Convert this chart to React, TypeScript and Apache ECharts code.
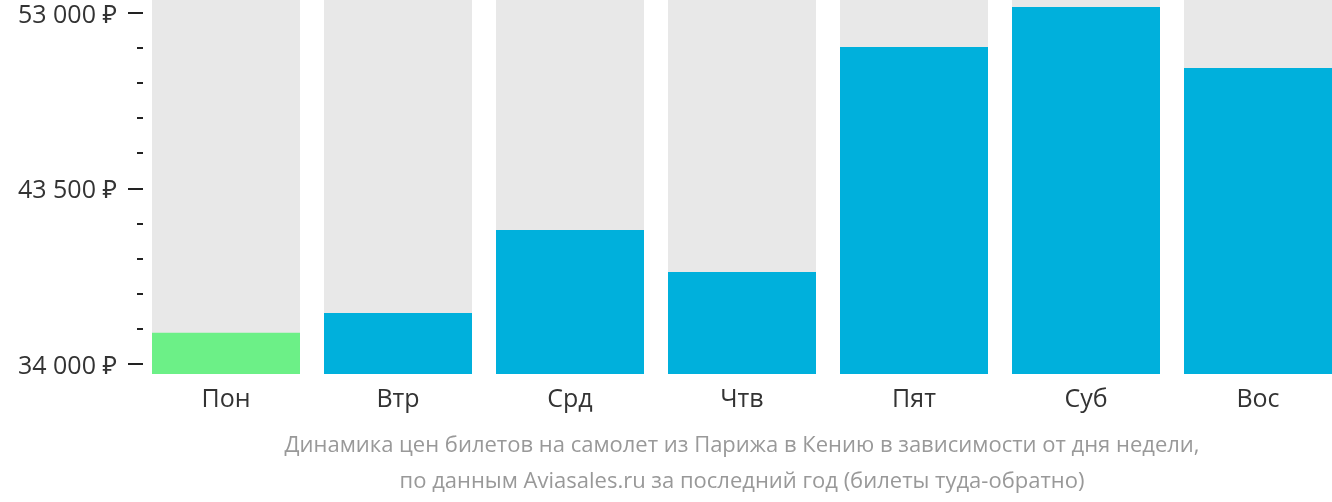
import React, { useEffect, useRef } from "react";
import * as echarts from "echarts";

const days = ["Пон", "Втр", "Срд", "Чтв", "Пят", "Суб", "Вос"];
const prices = [35670, 36720, 41150, 38910, 50920, 53050, 49800];
const cheapestIndex = 0;
const axisTicks = [34000, 43500, 53000];
const subtitleLines = [
  "Динамика цен билетов на самолет из Парижа в Кению в зависимости от дня недели,",
  "по данным Aviasales.ru за последний год (билеты туда-обратно)",
];

const FONT = "'Open Sans', 'Noto Sans', sans-serif";

function fmt(v: number) {
  const s = String(Math.round(v));
  return s.replace(/\B(?=(\d{3})+(?!\d))/g, " ") + " ₽";
}

export default function App() {
  const ref = useRef<HTMLDivElement>(null);
  useEffect(() => {
    if (!ref.current) return;
    const chart = echarts.init(ref.current, null, { renderer: "svg" });
    const axisMin = axisTicks[0];
    const axisMax = axisTicks[axisTicks.length - 1];
    const step = axisTicks[1] - axisTicks[0];
    const pxPerUnit = 356 / (axisMax - axisMin);
    const barMin = axisMin - 10 / pxPerUnit;
    const barMax = axisMax + 8 / pxPerUnit;
    chart.setOption({
      animation: false,
      textStyle: { fontFamily: FONT },
      title: {
        text: subtitleLines.join("\n"),
        left: 742,
        top: 425,
        textAlign: "center",
        padding: 0,
        textStyle: {
          fontFamily: FONT,
          fontSize: 22,
          fontWeight: "normal",
          color: "#999999",
          lineHeight: 36,
        },
      },
      grid: [
        { left: 143, top: 8, width: 10, height: 356 },
        { left: 140, top: 0, width: 1204, height: 374 },
      ],
      xAxis: [
        { type: "value", gridIndex: 0, show: false },
        {
          type: "category",
          gridIndex: 1,
          data: days,
          axisLine: { show: false },
          axisTick: { show: false },
          axisLabel: {
            color: "#333333",
            fontSize: 25,
            fontFamily: FONT,
            margin: 10,
          },
        },
      ],
      yAxis: [
        {
          type: "value",
          gridIndex: 0,
          min: axisMin,
          max: axisMax,
          interval: step,
          axisLine: { show: false },
          splitLine: { show: false },
          axisTick: {
            show: true,
            length: 15,
            lineStyle: { color: "#222222", width: 2 },
          },
          minorTick: {
            show: true,
            splitNumber: 5,
            length: 6,
            lineStyle: { color: "#222222", width: 2 },
          },
          axisLabel: {
            color: "#333333",
            fontSize: 25,
            fontFamily: FONT,
            margin: 26,
            formatter: (v: number) => fmt(v),
          },
        },
        {
          type: "value",
          gridIndex: 1,
          min: barMin,
          max: barMax,
          show: false,
        },
      ],
      series: [
        {
          type: "bar",
          xAxisIndex: 1,
          yAxisIndex: 1,
          barWidth: 148,
          showBackground: true,
          backgroundStyle: { color: "#e8e8e8" },
          data: prices.map((v, i) => ({
            value: v,
            itemStyle: { color: i === cheapestIndex ? "#6cf087" : "#00b0dc" },
          })),
        },
      ],
    });
    return () => chart.dispose();
  }, []);
  return (
    <div
      style={{
        position: "fixed",
        left: 0,
        top: 0,
        width: 1332,
        height: 502,
        overflow: "hidden",
      }}
    >
      <div ref={ref} style={{ width: 1344, height: 502 }} />
    </div>
  );
}
